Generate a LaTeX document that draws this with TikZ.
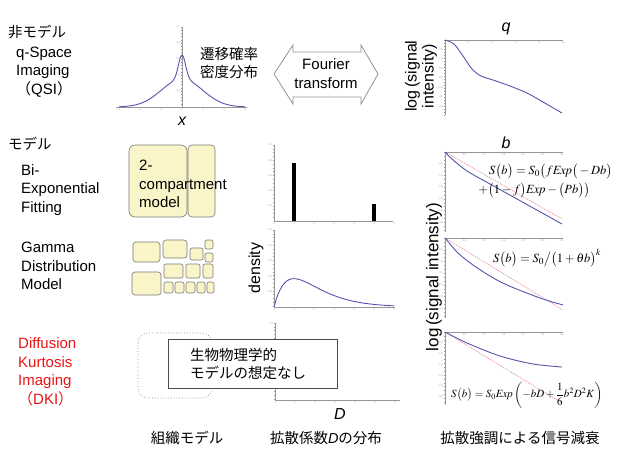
\documentclass[tikz,border=0pt]{standalone}
\usepackage{mathptmx}
\usepackage{fontspec}
\setmainfont{Liberation Sans}
\newfontfamily\jp{Noto Sans CJK JP}
\definecolor{curveblue}{RGB}{85,85,175}
\definecolor{axgray}{RGB}{150,150,150}
\definecolor{cellfill}{RGB}{250,245,200}
\definecolor{celldraw}{RGB}{120,120,120}
\definecolor{dkired}{RGB}{235,20,20}
\definecolor{dashred}{RGB}{225,130,150}
% horizontal axis: x0, x1, y, second tick x, tick length
\newcommand{\myhax}[5]{\draw[ax] (#1,#3) -- (#2,#3);
  \foreach \t in {#1,#4,...,#2} \draw[ax] (\t,#3) -- ++(0,#5);}
% vertical axis: y0, y1, second tick y, x, tick length
\newcommand{\myvax}[5]{\draw[ax] (#4,#1) -- (#4,#2);
  \foreach \t in {#1,#3,...,#2} \draw[ax] (#4,\t) -- ++(#5,0);}
\begin{document}
\begin{tikzpicture}[x=1pt,y=-1pt,
  lbl/.style={font=\fontsize{15}{18.5}\selectfont, align=left, inner sep=0pt},
  jplbl/.style={font=\jp\fontsize{14.5}{18.5}\selectfont, align=left, inner sep=0pt},
  cell/.style={draw=celldraw, fill=cellfill, rounded corners=2pt, line width=0.6pt},
  ax/.style={draw=axgray, line width=0.4pt},
  tk/.style={font=\fontsize{2.5}{3}\selectfont, text=axgray, inner sep=0.4pt},
  curve/.style={draw=curveblue, line width=0.9pt},
  refline/.style={draw=dashred, dash pattern=on 1.2pt off 1pt, line width=0.6pt},
  formula/.style={font=\fontsize{12.5}{14}\selectfont, inner sep=0pt},
  vlbl/.style={rotate=90, inner sep=0pt, align=center}]
\useasboundingbox (0,0) rectangle (620,464);
\fill[white] (0,0) rectangle (620,464);

% ---------- left labels ----------
\node[jplbl, anchor=west] (nm) at (8,32) {非モデル};
\node[lbl, anchor=west] (qsi) at (16,72) {q-Space\\Imaging\\{\jp （}QSI{\jp ）}};
\node[jplbl, anchor=west] (md) at (8,144) {モデル};
\node[lbl, anchor=west] (bi) at (21,190) {Bi-\\Exponential\\Fitting};
\node[lbl, anchor=west] (gm) at (21,266) {Gamma\\Distribution\\Model};
\node[lbl, anchor=west, text=dkired] (dki) at (18,372) {Diffusion\\Kurtosis\\Imaging\\{\jp （}DKI{\jp ）}};

% ---------- QSI propagator ----------
\myhax{116}{247}{107}{120.4}{1.2}
\myvax{27}{107}{30.2}{182}{-1.2}
\foreach \v [count=\i from -3] in {-3,-2,-1,0,1,2,3}
  \node[tk, anchor=north] at ({182+21*\i},108.5) {\v};
\foreach \v [count=\i] in {0.2,0.4,0.6,0.8,1.0}
  \node[tk, anchor=east] at (180.5,{107-16*\i}) {\v};
\draw[curve] plot[domain=-63:63, samples=160, smooth]
  ({182+\x},{107-(24*exp(-min((\x/5)^2,30))+28*exp(-(\x/29)^2))});
\node[font=\fontsize{16}{18}\selectfont\itshape, inner sep=0pt] (xl) at (182,121) {x};
\node[jplbl] (prop) at (229,63) {遷移確率\\密度分布};

% ---------- Fourier double arrow ----------
\draw[draw=gray!85, fill=white, line width=0.8pt]
  (274,74) -- (293,45) -- (293,52) -- (361,52) -- (361,45) -- (378,74)
  -- (361,104) -- (361,97) -- (293,97) -- (293,104) -- cycle;
\node[font=\fontsize{15}{19}\selectfont, align=center, inner sep=0pt] (ft) at (326,74) {Fourier\\transform};

% ---------- q signal plot ----------
\node[font=\fontsize{16}{18}\selectfont\itshape, inner sep=0pt] (ql) at (506,29) {q};
\myhax{445}{563}{40}{447.36}{1.2}
\myvax{40}{115}{43}{445}{-1.2}
\foreach \v [count=\i] in {2,4,6,8,10}
  \node[tk, anchor=north] at ({445+23.6*\i},41.5) {\v};
\foreach \v [count=\i] in {-0.5,-1.0,-1.5,-2.0,-2.5,-3.0,-3.5}
  \node[tk, anchor=east] at (443.5,{40+9.5*\i}) {\v};
\draw[curve] plot[smooth] coordinates {(445,40) (454,44) (463,56) (472,69) (481,76) (493,80) (510,86) (527,93) (543,102) (562,113)};
\node[vlbl, font=\fontsize{16}{17}\selectfont] (lsi1) at (421,76) {log{\,}(signal\\intensity)};

% ---------- two-compartment tissue ----------
\draw[cell, rounded corners=6pt] (129,145) rectangle (187,217);
\draw[cell, rounded corners=4pt] (188,145) rectangle (215,217);
\node[lbl, anchor=west] (tc) at (139,184) {2-\\compartment\\model};

% ---------- bar distribution ----------
\myhax{274}{393}{221}{278}{1.2}
\myvax{145}{221}{148.8}{274}{-1.2}
\foreach \v [count=\i from 0] in {0,1,2,3,4,5,6}
  \node[tk, anchor=north] at ({274+20*\i},222.5) {\v};
\foreach \v [count=\i] in {0.2,0.4,0.6,0.8,1.0}
  \node[tk, anchor=east] at (272.5,{221-15.2*\i}) {\v};
\fill (292.2,163) rectangle (295.8,221);
\fill (372.2,204) rectangle (375.8,221);

% ---------- b label and bi-exp signal ----------
\node[font=\fontsize{16}{18}\selectfont\itshape, inner sep=0pt] (bl) at (506,143) {b};
\myhax{445}{563}{152}{448.9}{1.2}
\myvax{152}{232}{155.9}{445}{-1.2}
\foreach \v [count=\i] in {0.5,1.0,1.5,2.0,2.5,3.0}
  \node[tk, anchor=north] at ({445+19.5*\i},153.5) {\v};
\foreach \v [count=\i] in {-0.5,-1.0,-1.5,-2.0,-2.5,-3.0}
  \node[tk, anchor=east] at (443.5,{152+11.7*\i}) {\v};
\draw[refline] (445,152) -- (562,219);
\draw[curve] plot[smooth] coordinates {(445,152) (452,159) (467,171) (490,184) (517,199) (562,224)};
\node[formula, anchor=west] (f1) at (489,171) {$S\big(b\big)=S_0\big(f\mathit{Exp}\big(-Db\big)$};
\node[formula, anchor=east] (f2) at (590,190) {$+\big(1-f\big)\mathit{Exp}-\big(Pb\big)\big)$};

% ---------- gamma tissue ----------
\draw[cell, rounded corners=3pt] (133,242) rectangle (160,262);
\draw[cell, rounded corners=3pt] (132,272) rectangle (161,295);
\draw[cell, rounded corners=3pt] (163,240) rectangle (187,258);
\draw[cell] (190,248) rectangle (203,260);
\draw[cell] (205,240) rectangle (213,249);
\draw[cell] (205,253) rectangle (213,262);
\draw[cell] (164,264) rectangle (183,278);
\draw[cell] (186,264) rectangle (200,278);
\draw[cell] (203,264) rectangle (213,278);
\draw[cell] (164,282) rectangle (173,293);
\draw[cell] (175,282) rectangle (184,293);
\draw[cell] (186,282) rectangle (195,293);
\draw[cell] (197,282) rectangle (205,293);
\draw[cell] (207,282) rectangle (214,293);

% ---------- gamma density ----------
\myhax{274}{395}{307}{278}{1.2}
\myvax{230}{307}{233.8}{274}{-1.2}
\foreach \v [count=\i from 0] in {0,1,2,3,4,5,6}
  \node[tk, anchor=north] at ({274+20*\i},308.5) {\v};
\foreach \v [count=\i] in {0.2,0.4,0.6,0.8,1.0}
  \node[tk, anchor=east] at (272.5,{307-15.4*\i}) {\v};
\draw[curve] plot[domain=0:6, samples=80, smooth] ({274+20*\x},{307-77*\x*exp(-\x)});
\node[vlbl, font=\fontsize{16}{18}\selectfont] (dens) at (256,268) {density};

% ---------- gamma signal ----------
\myhax{445}{563}{238}{448.9}{1.2}
\myvax{238}{318}{241.9}{445}{-1.2}
\foreach \v [count=\i] in {0.5,1.0,1.5,2.0,2.5,3.0}
  \node[tk, anchor=north] at ({445+19.5*\i},239.5) {\v};
\foreach \v [count=\i] in {-0.5,-1.0,-1.5,-2.0,-2.5,-3.0}
  \node[tk, anchor=east] at (443.5,{238+11.7*\i}) {\v};
\draw[refline] (445,238) -- (563,310);
\draw[curve] plot[smooth] coordinates {(445,238) (458,253) (473,265) (490,276) (507,285) (540,298) (563,305)};
\node[formula, anchor=west] (f3) at (493,258) {$S\big(b\big)=S_0\big/\big(1+\theta b\big)^k$};

% ---------- DKI D axis ----------
\myhax{275}{400}{400}{279}{1.2}
\myvax{323}{400}{326.8}{275}{-1.2}
\foreach \v [count=\i from 0] in {0,1,2,3,4,5,6}
  \node[tk, anchor=north] at ({275+20*\i},401.5) {\v};
\node[tk, anchor=east] at (273.5,324) {1.0};
\node[font=\fontsize{16}{18}\selectfont\itshape, inner sep=0pt] (dl) at (340,414) {D};

% ---------- DKI tissue (drawn over the axis) ----------
\draw[draw=gray, dotted, line width=0.7pt, rounded corners=10pt] (138,333) rectangle (212,398);
\draw[draw=gray!60!black, fill=white, line width=0.8pt] (168,339) rectangle (337,388);
\node[jplbl, anchor=west] (nomodel) at (190,364) {生物物理学的\\モデルの想定なし};

% ---------- DKI signal ----------
\myhax{445}{563}{332}{448.9}{1.2}
\myvax{332}{405}{335.9}{445}{-1.2}
\foreach \v [count=\i] in {0.5,1.0,1.5,2.0,2.5,3.0}
  \node[tk, anchor=north] at ({445+19.5*\i},333.5) {\v};
\foreach \v [count=\i] in {-0.5,-1.0,-1.5,-2.0,-2.5,-3.0}
  \node[tk, anchor=east] at (443.5,{332+10.8*\i}) {\v};
\draw[refline] (445,332) -- (562,403);
\draw[curve] plot[smooth] coordinates {(445,332) (467,343) (500,356) (533,364) (562,367)};
\node[formula, font=\fontsize{11}{13}\selectfont, anchor=west] (f4) at (451,395) {$S\big(b\big)=S_0\mathit{Exp}\left(-bD+{\displaystyle\frac{1}{6}}b^2D^2K\right)$};

% big vertical label
\node[vlbl, font=\fontsize{17}{18}\selectfont] (lsi2) at (434,277) {log{\,}(signal intensity)};

% ---------- bottom captions ----------
\node[jplbl] (c1) at (187,438) {組織モデル};
\node[jplbl] (c2) at (326,438) {拡散係数{\fontspec{Liberation Sans}\itshape D}の分布};
\node[jplbl] (c3) at (520,438) {拡散強調による信号減衰};
\end{tikzpicture}
\end{document}
